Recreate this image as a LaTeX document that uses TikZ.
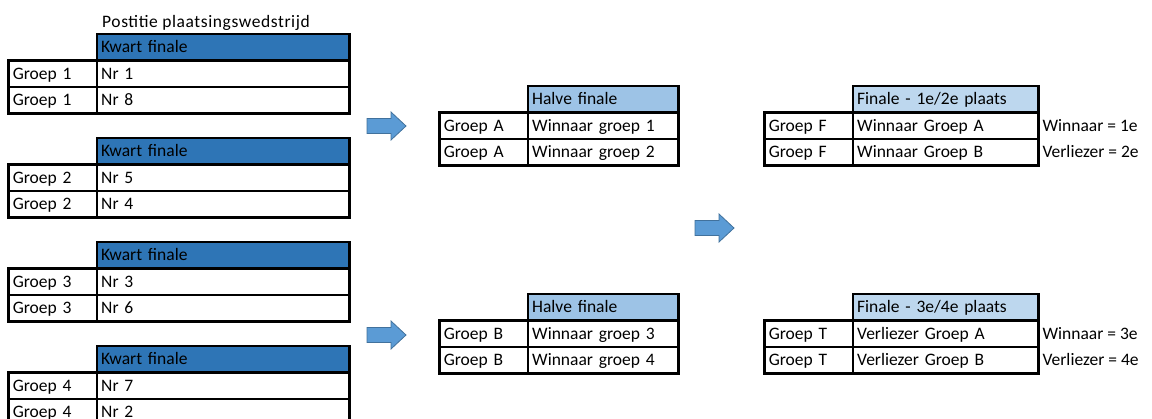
\documentclass[tikz,border=0pt]{standalone}
\usepackage{fontspec}
\setmainfont{Carlito}
\newfontfamily\titlefont[LetterSpace=3.3]{Carlito}
\definecolor{kf}{HTML}{2E75B6}
\definecolor{hf}{HTML}{9DC3E6}
\definecolor{ff}{HTML}{BDD7EE}
\definecolor{af}{HTML}{5B9BD5}
\definecolor{ab}{HTML}{41719C}
\tikzset{
  cell/.style={rectangle, inner xsep=4pt, inner ysep=0pt, minimum height=26pt,
    text height=11.3pt, text depth=0pt, align=left, fill=white,
    font=\fontsize{17.5}{20}\selectfont},
  thickline/.style={line width=2.6pt, black},
  thinline/.style={line width=1.8pt, black},
  plain/.style={inner sep=0pt, text height=11.3pt, text depth=0pt, font=\fontsize{17.5}{20}\selectfont},
  barrow/.style={fill=af, draw=ab, line width=0.8pt, line join=miter},
}
% #1 prefix, #2 header top-left point, #3 left width, #4 right width,
% #5 header colour, #6 header text, #7 left text, #8 row1 text, #9 row2 text
\newcommand\bracketbox[9]{%
  \node[cell, fill=#5, anchor=north west, text width=#4pt-8pt] (#1h) at (#2) {#6};
  \node[cell, anchor=north west, text width=#4pt-8pt] (#1r1) at (#1h.south west) {#8};
  \node[cell, anchor=north west, text width=#4pt-8pt] (#1r2) at (#1r1.south west) {#9};
  \node[cell, anchor=north east, text width=#3pt-8pt] (#1l1) at (#1h.south west) {#7};
  \node[cell, anchor=north east, text width=#3pt-8pt] (#1l2) at (#1l1.south east) {#7};
  \draw[thinline] (#1l1.south west) -- (#1r1.south east);
  \draw[thinline] (#1l1.north east) -- (#1l2.south east);
  \draw[thickline] (#1l1.north west) rectangle (#1r2.south east);
  \draw[thickline] (#1h.north west) rectangle (#1h.south east);
}
\newcommand\blockarrow[2]{%
  \draw[barrow] (#1,#2) ++(0,-7.5) -- ++(24,0) -- ++(0,-6.5) -- ++(15,14) -- ++(-15,14) -- ++(0,-6.5) -- ++(-24,0) -- cycle;
}
\begin{document}
\begin{tikzpicture}[x=1pt, y=-1pt]
  \useasboundingbox (0,0) rectangle (1152,418);
  % quarter finals
  \bracketbox{ta}{97,34}{88}{252}{kf}{Kwart finale}{Groep 1}{Nr 1}{Nr 8}
  \bracketbox{tb}{97,138}{88}{252}{kf}{Kwart finale}{Groep 2}{Nr 5}{Nr 4}
  \bracketbox{tc}{97,242}{88}{252}{kf}{Kwart finale}{Groep 3}{Nr 3}{Nr 6}
  \bracketbox{td}{97,346}{88}{252}{kf}{Kwart finale}{Groep 4}{Nr 7}{Nr 2}
  \node[plain, font=\fontsize{17.5}{20}\titlefont, anchor=base west] (title) at ([xshift=5pt, yshift=7pt]tah.north west) {Postitie plaatsingswedstrijd};
  % semi finals
  \bracketbox{ma}{528,86}{88}{150}{hf}{Halve finale}{Groep A}{Winnaar groep 1}{Winnaar groep 2}
  \bracketbox{mb}{528,294}{88}{150}{hf}{Halve finale}{Groep B}{Winnaar groep 3}{Winnaar groep 4}
  % finals
  \bracketbox{ra}{853,86}{88}{185}{ff}{Finale - 1e/2e plaats}{Groep F}{Winnaar Groep A}{Winnaar Groep B}
  \bracketbox{rb}{853,294}{88}{185}{ff}{Finale - 3e/4e plaats}{Groep T}{Verliezer Groep A}{Verliezer Groep B}
  \node[plain, anchor=west] (wa) at ([xshift=4pt]rar1.east) {Winnaar = 1e};
  \node[plain, anchor=west] (va) at ([xshift=4pt]rar2.east) {Verliezer = 2e};
  \node[plain, anchor=west] (wb) at ([xshift=4pt]rbr1.east) {Winnaar = 3e};
  \node[plain, anchor=west] (vb) at ([xshift=4pt]rbr2.east) {Verliezer = 4e};
  % arrows
  \blockarrow{367}{126}
  \blockarrow{367}{335}
  \blockarrow{695}{228}
\end{tikzpicture}
\end{document}
